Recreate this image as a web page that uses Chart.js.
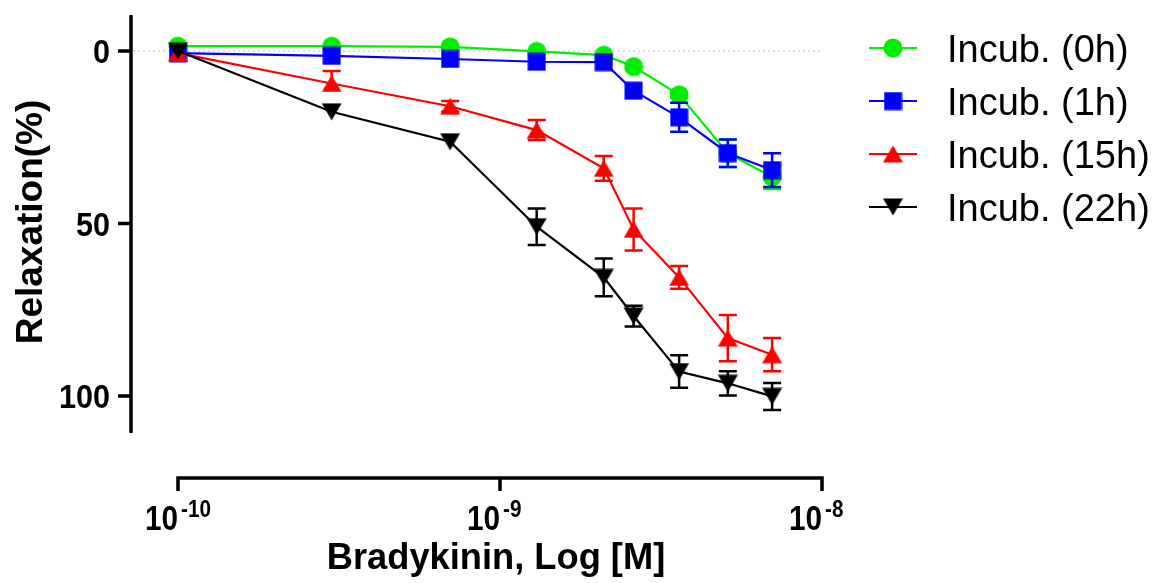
<!DOCTYPE html>
<html>
<head>
<meta charset="utf-8">
<script src="https://cdn.jsdelivr.net/npm/chart.js@4/dist/chart.umd.min.js"></script>
<style>
  html, body { margin: 0; padding: 0; background: #fff; }
  #wrap { width: 1158px; height: 583px; }
</style>
</head>
<body>
<div id="wrap"><canvas id="chart" width="1158" height="583"></canvas></div>
<script>
// concentrations of bradykinin (M)
const concentrations = [1e-10, 3e-10, 7e-10, 1.3e-9, 2.1e-9, 2.6e-9, 3.6e-9, 5.1e-9, 7e-9];

const seriesNames = ["Incub. (0h)", "Incub. (1h)", "Incub. (15h)", "Incub. (22h)"];
const seriesColors = ["#00ee00", "#0000ff", "#ff0000", "#000000"];
const seriesShapes = ["circle", "square", "triangle", "triangleDown"];

// relaxation (%) and error bars
const incub0h = [-1.4, -1.4, -1.2, 0.1, 1.2, 4.5, 12.7, 29.6, 36.5];
const incub0hErr = [0, 0, 0, 0, 0, 0, 0.8, 4.0, 3.5];
const incub1h = [0.6, 1.4, 2.3, 3.1, 3.2, 11.5, 19.2, 29.6, 34.5];
const incub1hErr = [0, 0, 0, 0, 0, 0, 4.2, 4.0, 4.9];
const incub15h = [0.6, 9.4, 16.0, 22.9, 34.0, 51.7, 65.6, 83.2, 88.0];
const incub15hErr = [0, 3.6, 1.5, 2.9, 3.6, 6.1, 3.3, 6.7, 4.8];
const incub15hErrLow = [0, 0, 1.5, 2.9, 3.6, 6.1, 3.3, 6.7, 4.8];
const incub22h = [0, 17.6, 26.3, 50.9, 65.6, 76.8, 92.9, 96.3, 100.1];
const incub22hErr = [0, 0, 0, 5.3, 5.5, 3.0, 4.7, 3.5, 3.9];

const yTicks = [0, 50, 100];
const xTicks = [1e-10, 1e-9, 1e-8];
const xTickExponents = ["-10", "-9", "-8"];

const xTitle = "Bradykinin, Log [M]";
const yTitle = "Relaxation(%)";

const FONT = '"Liberation Sans", Arial, sans-serif';

function makeMarker(shape, color) {
  const c = document.createElement("canvas");
  const w = shape === "circle" ? 20 : shape === "square" ? 19 : 21;
  const h = shape === "circle" ? 20 : shape === "square" ? 19 : 18;
  c.width = w; c.height = h;
  const g = c.getContext("2d");
  g.fillStyle = color;
  g.beginPath();
  if (shape === "circle") {
    g.arc(w / 2, h / 2, 9.5, 0, Math.PI * 2);
  } else if (shape === "square") {
    g.rect(0.5, 0.5, w - 1, h - 1);
  } else if (shape === "triangle") {
    g.moveTo(w / 2, 0.5); g.lineTo(w - 0.5, h - 0.5); g.lineTo(0.5, h - 0.5);
  } else {
    g.moveTo(0.5, 0.5); g.lineTo(w - 0.5, 0.5); g.lineTo(w / 2, h - 0.5);
  }
  g.closePath();
  g.fill();
  return c;
}

const markers = seriesShapes.map((s, i) => makeMarker(s, seriesColors[i]));

const values = [incub0h, incub1h, incub15h, incub22h];
const errsUp = [incub0hErr, incub1hErr, incub15hErr, incub22hErr];
const errsDown = [incub0hErr, incub1hErr, incub15hErrLow, incub22hErr];

const datasets = values.map((vals, i) => ({
  label: seriesNames[i],
  data: vals.map((v, j) => ({ x: concentrations[j], y: v })),
  borderColor: seriesColors[i],
  backgroundColor: seriesColors[i],
  borderWidth: 2.2,
  showLine: true,
  tension: 0,
  pointStyle: markers[i],
  pointRadius: 10,
  pointHoverRadius: 10,
  clip: false,
  order: 4 - i,
  errUp: errsUp[i],
  errDown: errsDown[i]
}));

// text squeezed horizontally, like the narrow bold labels of the original
function squeezedText(ctx, text, x, y, sx) {
  ctx.save();
  ctx.translate(x, y);
  ctx.scale(sx, 1);
  ctx.fillText(text, 0, 0);
  ctx.restore();
}

const decorPlugin = {
  id: "decor",
  beforeDatasetsDraw(chart) {
    const ctx = chart.ctx;
    const y0 = chart.scales.y.getPixelForValue(0);
    ctx.save();
    ctx.strokeStyle = "#c4c4c4";
    ctx.lineWidth = 1;
    ctx.setLineDash([2, 3]);
    ctx.beginPath();
    ctx.moveTo(133, y0);
    ctx.lineTo(chart.chartArea.right, y0);
    ctx.stroke();
    ctx.restore();
  },
  beforeDatasetDraw(chart, args) {
    const ds = chart.data.datasets[args.index];
    const xs = chart.scales.x, ys = chart.scales.y;
    const ctx = chart.ctx;
    ctx.save();
    ctx.strokeStyle = ds.borderColor;
    ctx.lineWidth = 2.5;
    ds.data.forEach((p, j) => {
      const up = ds.errUp[j], down = ds.errDown[j];
      if (!up && !down) return;
      const x = xs.getPixelForValue(p.x);
      const yt = ys.getPixelForValue(p.y - up);
      const yb = ys.getPixelForValue(p.y + down);
      ctx.beginPath();
      ctx.moveTo(x, yt); ctx.lineTo(x, yb);
      if (up) { ctx.moveTo(x - 9, yt); ctx.lineTo(x + 9, yt); }
      if (down) { ctx.moveTo(x - 9, yb); ctx.lineTo(x + 9, yb); }
      ctx.stroke();
    });
    ctx.restore();
  },
  afterDraw(chart) {
    const ctx = chart.ctx;
    const xs = chart.scales.x, ys = chart.scales.y;
    const area = chart.chartArea;
    ctx.save();
    ctx.strokeStyle = "#000";
    ctx.fillStyle = "#000";
    ctx.lineWidth = 3.5;
    ctx.lineCap = "butt";

    // y axis
    const yAxisX = 131;
    ctx.beginPath();
    ctx.moveTo(yAxisX, area.top);
    ctx.lineTo(yAxisX, area.bottom);
    yTicks.forEach(t => {
      const y = ys.getPixelForValue(t);
      ctx.moveTo(yAxisX - 13, y);
      ctx.lineTo(yAxisX, y);
    });
    ctx.stroke();
    ctx.font = "bold 34px " + FONT;
    ctx.textAlign = "right";
    ctx.textBaseline = "alphabetic";
    yTicks.forEach(t => {
      const y = ys.getPixelForValue(t);
      squeezedText(ctx, String(t), 110, y + 12, 0.9);
    });

    // x axis
    const xAxisY = 478;
    ctx.beginPath();
    ctx.moveTo(area.left - 1.75, xAxisY);
    ctx.lineTo(area.right + 1.75, xAxisY);
    xTicks.forEach(t => {
      const x = xs.getPixelForValue(t);
      ctx.moveTo(x, xAxisY);
      ctx.lineTo(x, xAxisY + 13);
    });
    ctx.stroke();
    xTicks.forEach((t, i) => {
      const x = xs.getPixelForValue(t);
      ctx.font = "bold 35px " + FONT;
      ctx.textAlign = "right";
      squeezedText(ctx, "10", x, 530, 0.85);
      ctx.font = "bold 23px " + FONT;
      ctx.textAlign = "left";
      squeezedText(ctx, xTickExponents[i], x + 3, 517, 0.9);
    });

    // titles
    ctx.font = "bold 37px " + FONT;
    ctx.textAlign = "center";
    squeezedText(ctx, xTitle, 496, 569, 0.98);
    ctx.save();
    ctx.translate(42, 222);
    ctx.rotate(-Math.PI / 2);
    ctx.fillText(yTitle, 0, 0);
    ctx.restore();

    // legend
    const rowY = [48, 101, 154, 207];
    ctx.font = "38px " + FONT;
    ctx.textAlign = "left";
    seriesNames.forEach((name, i) => {
      const y = rowY[i];
      ctx.strokeStyle = seriesColors[i];
      ctx.lineWidth = 2.2;
      ctx.beginPath();
      ctx.moveTo(869, y);
      ctx.lineTo(917, y);
      ctx.stroke();
      const m = markers[i];
      ctx.drawImage(m, 893 - m.width / 2, y - m.height / 2);
      ctx.fillStyle = "#000";
      ctx.fillText(name, 947, y + 13.5);
    });
    ctx.restore();
  }
};

new Chart(document.getElementById("chart"), {
  type: "scatter",
  data: { datasets },
  options: {
    responsive: false,
    animation: false,
    devicePixelRatio: 1,
    layout: { padding: { left: 178, right: 336, top: 15, bottom: 150 } },
    plugins: {
      legend: { display: false },
      tooltip: { enabled: false }
    },
    scales: {
      x: { type: "logarithmic", min: 1e-10, max: 1e-8, display: false },
      y: { type: "linear", reverse: true, min: -10.45, max: 110.7, display: false }
    }
  },
  plugins: [decorPlugin]
});
</script>
</body>
</html>
